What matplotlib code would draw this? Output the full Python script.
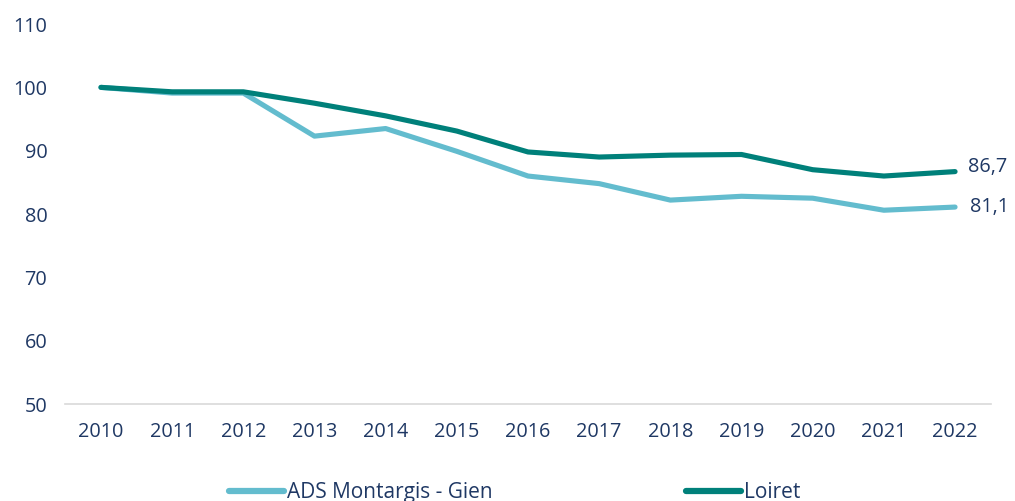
import matplotlib
matplotlib.use("Agg")
import matplotlib.pyplot as plt

years = ["2010", "2011", "2012", "2013", "2014", "2015", "2016", "2017", "2018", "2019", "2020", "2021", "2022"]
ads = [100.0, 99.1, 99.1, 92.3, 93.5, 89.9, 86.0, 84.8, 82.2, 82.8, 82.5, 80.6, 81.1]
loiret = [100.0, 99.3, 99.3, 97.5, 95.5, 93.1, 89.8, 89.0, 89.3, 89.4, 87.0, 86.0, 86.7]
series_names = ["ADS Montargis - Gien", "Loiret"]
yticks = [50, 60, 70, 80, 90, 100, 110]

navy = "#1F3864"
c_ads = "#63BCCE"
c_loi = "#00807A"

plt.rcParams['font.family'] = ['Open Sans', 'DejaVu Sans']
FS = 14.3
LFS = 15

fig = plt.figure(figsize=(10.15, 5.01), dpi=100)
ax = fig.add_axes([0.0644, 0.1936, 0.9116, 0.7584])
x = list(range(len(years)))
ax.plot(x, ads, color=c_ads, lw=3.7, solid_capstyle='round', solid_joinstyle='round', label=series_names[0])
ax.plot(x, loiret, color=c_loi, lw=3.7, solid_capstyle='round', solid_joinstyle='round', label=series_names[1])

ax.set_xlim(-0.5, len(years) - 0.5)
ax.set_ylim(50, 110)
ax.set_yticks(yticks)
ax.set_yticklabels([str(t) for t in yticks])
ax.set_xticks(x)
ax.set_xticklabels(years)
ax.tick_params(axis='both', length=0, labelsize=FS, labelcolor=navy)
ax.tick_params(axis='y', pad=13)
ax.tick_params(axis='x', pad=13)
for s in ['top', 'right', 'left']:
    ax.spines[s].set_visible(False)
ax.spines['bottom'].set_color('#D9D9D9')
ax.spines['bottom'].set_linewidth(1.2)

ax.annotate(f"{loiret[-1]:.1f}".replace('.', ','), xy=(x[-1], loiret[-1]), xytext=(9, 3),
            textcoords='offset points', va='center', ha='left', fontsize=FS, color=navy,
            annotation_clip=False)
ax.annotate(f"{ads[-1]:.1f}".replace('.', ','), xy=(x[-1], ads[-1]), xytext=(11, 0),
            textcoords='offset points', va='center', ha='left', fontsize=FS, color=navy,
            annotation_clip=False)

leg = fig.legend(loc='center', bbox_to_anchor=(0.507, 0.016), ncol=2, frameon=False,
                 fontsize=LFS, handlelength=2.64, handletextpad=0.15, columnspacing=9.3,
                 borderaxespad=0)
for t in leg.get_texts():
    t.set_color(navy)
for h in leg.legend_handles:
    h.set_linewidth(4.5)

fig.savefig("out.png", dpi=100)
